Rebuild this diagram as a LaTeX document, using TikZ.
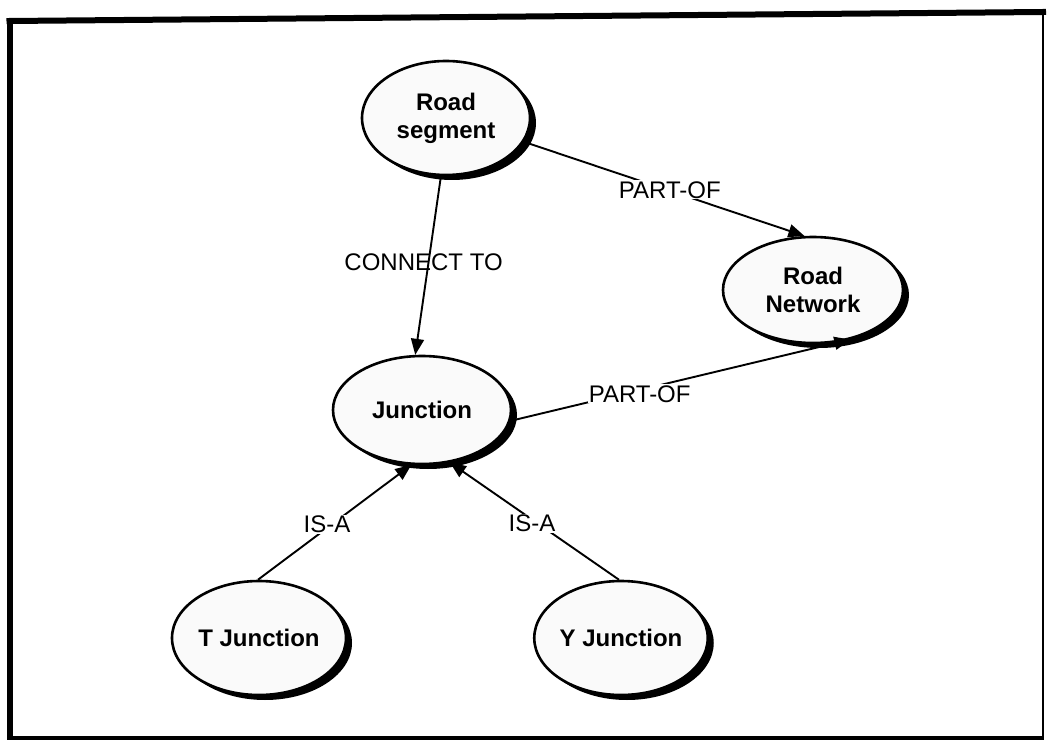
\documentclass[tikz,border=0pt]{standalone}
\usepackage{fontspec}
\setmainfont{Liberation Sans}
\usetikzlibrary{shapes.geometric,shadows,arrows.meta}

\tikzset{
  concept/.style={ellipse, draw=black, line width=2.6pt, fill=black!2,
    inner sep=0pt, align=center, font=\fontsize{24}{28}\selectfont\bfseries,
    drop shadow={shadow xshift=6pt, shadow yshift=-5pt, fill=black, opacity=1}},
  rel/.style={line width=1.9pt, -{Triangle[length=16pt,width=13pt]}},
  lbl/.style={font=\fontsize{24}{27}\selectfont, inner sep=1pt},
  lblw/.style={lbl, fill=white},
}

\begin{document}
\begin{tikzpicture}[x=1pt,y=-1pt]
  \useasboundingbox (0,0) rectangle (1047,743);
  \fill[white] (0,0) rectangle (1047,743);

  % outer frame: heavy top and left rules, lighter right and bottom
  \draw[line width=6pt, line cap=rect] (9.5,21) -- (1043,12);
  \draw[line width=6pt, line cap=rect] (9.5,21) -- (9.5,737);
  \draw[line width=2.5pt] (1043,12) -- (1043,738);
  \draw[line width=4pt] (8,738) -- (1044,738);

  % concepts
  \node[concept, minimum width=168pt, minimum height=114pt] (rs) at (446,118) {Road\\segment};
  \node[concept, minimum width=180pt, minimum height=106pt] (rn) at (813,290) {Road\\Network};
  \node[concept, minimum width=178pt, minimum height=108pt] (jn) at (422,410) {Junction};
  \node[concept, minimum width=174pt, minimum height=114pt] (tj) at (259,638) {T Junction};
  \node[concept, minimum width=172pt, minimum height=114pt] (yj) at (621,638) {Y Junction};

  % relations
  \draw[rel] (rs.-95) -- node[lbl, pos=0.48, xshift=-5pt] {CONNECT TO} (jn.97);
  \draw[rel] (rs.-17.6) -- node[lblw, pos=0.52, yshift=1pt] {PART-OF} (rn.99);
  \draw[rel] (jn.-7) -- node[lblw, pos=0.38, yshift=-4pt] {PART-OF} (rn.-53);
  \draw[rel] (tj.91) -- node[lblw, pos=0.45, yshift=4pt] {IS-A} (jn.-101);
  \draw[rel] (yj.92) -- node[lblw, pos=0.515, yshift=-4pt] {IS-A} (jn.-62);
\end{tikzpicture}
\end{document}
